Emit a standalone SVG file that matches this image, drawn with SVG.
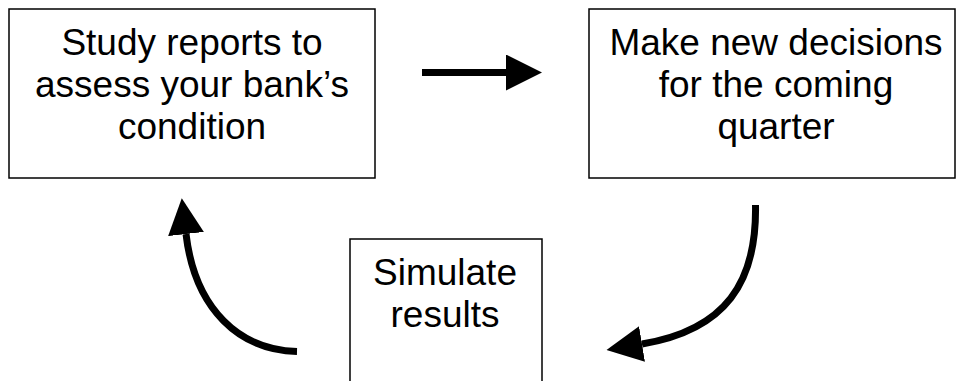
<svg xmlns="http://www.w3.org/2000/svg" width="957" height="381" viewBox="0 0 957 381">
  <style>
    .box { fill: #ffffff; stroke: #000000; stroke-width: 1.5; }
    .label { font-family: "Liberation Sans", Arial, sans-serif; font-size: 37px; fill: #000000; text-anchor: middle; }
    .conn { fill: none; stroke: #000000; stroke-width: 7; stroke-linecap: butt; }
  </style>
  <defs>
    <marker id="head" markerUnits="userSpaceOnUse" markerWidth="36" markerHeight="36" refX="0" refY="18" orient="auto" viewBox="0 0 36 36">
      <path d="M0,0 L36,18 L0,36 Z" fill="#000000"/>
    </marker>
  </defs>
  <rect width="957" height="381" fill="#ffffff"/>
  <g id="study">
    <rect class="box" x="9" y="9" width="366" height="169"/>
    <text class="label" x="192" y="55">Study reports to</text>
    <text class="label" x="192" y="97">assess your bank’s</text>
    <text class="label" x="192" y="139">condition</text>
  </g>
  <g id="decide">
    <rect class="box" x="589" y="9" width="366" height="169"/>
    <text class="label" x="776" y="55">Make new decisions</text>
    <text class="label" x="776" y="97">for the coming</text>
    <text class="label" x="776" y="139">quarter</text>
  </g>
  <g id="simulate">
    <rect class="box" x="350" y="239" width="192" height="160"/>
    <text class="label" x="445" y="285">Simulate</text>
    <text class="label" x="445" y="327">results</text>
  </g>
  <g id="connectors">
    <path class="conn" d="M422,72.5 L506,72.5" marker-end="url(#head)"/>
    <path class="conn" d="M755.5,205 C757,282 726,330 642,344" marker-end="url(#head)"/>
    <path class="conn" d="M297,351.5 C240,350 195,310 186,234" marker-end="url(#head)"/>
  </g>
</svg>
